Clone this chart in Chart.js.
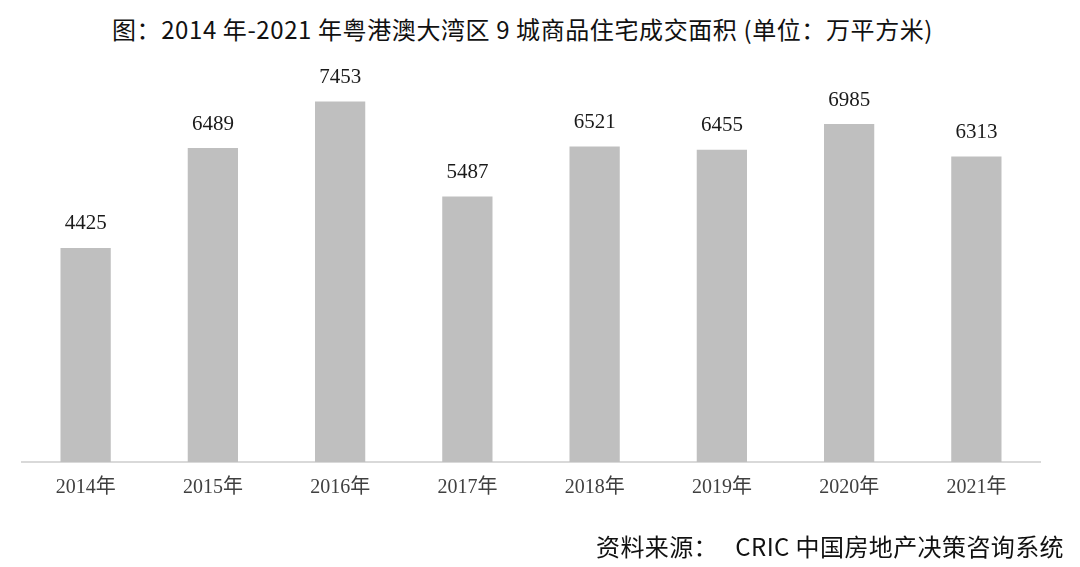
<!DOCTYPE html>
<html lang="zh">
<head>
    <meta charset="UTF-8">
    <title>粤港澳大湾区9城商品住宅成交面积</title>
    <script src="https://cdn.jsdelivr.net/npm/chart.js"></script>
    <style>
        body {
            margin: 0;
            background: #fff;
        }
        .wrap {
            position: relative;
            width: 1080px;
            height: 567px;
        }
        canvas {
            position: absolute;
            left: 0;
            top: 0;
        }
        .title {
            position: absolute;
            top: 11px;
            left: 0;
            width: 1045px;
            text-align: center;
            font-family: 'Noto Sans CJK SC', sans-serif;
            font-size: 24px;
            letter-spacing: 0.6px;
            color: #111;
            white-space: nowrap;
        }
        .source {
            position: absolute;
            right: 16px;
            top: 528px;
            font-family: 'Noto Sans CJK SC', sans-serif;
            font-size: 24px;
            letter-spacing: 0.4px;
            color: #111;
            white-space: pre;
        }
    </style>
</head>
<body>
    <div class="wrap">
        <div class="title">图：2014 年-2021 年粤港澳大湾区 9 城商品住宅成交面积 (单位：万平方米)</div>
        <canvas id="areaChart" width="1080" height="567"></canvas>
        <div class="source">资料来源：   CRIC 中国房地产决策咨询系统</div>
    </div>

    <script>
        const years = ['2014年', '2015年', '2016年', '2017年', '2018年', '2019年', '2020年', '2021年'];
        const areas = [4425, 6489, 7453, 5487, 6521, 6455, 6985, 6313];

        // value labels above each bar
        const barLabels = {
            id: 'barLabels',
            afterDatasetsDraw(chart) {
                const ctx = chart.ctx;
                const meta = chart.getDatasetMeta(0);
                ctx.save();
                ctx.font = "21px 'Liberation Serif', serif";
                ctx.fillStyle = '#1a1a1a';
                ctx.textAlign = 'center';
                ctx.textBaseline = 'middle';
                meta.data.forEach((bar, i) => {
                    ctx.fillText(areas[i], bar.x, bar.y - 24);
                });
                ctx.restore();
            }
        };

        const ctx = document.getElementById('areaChart').getContext('2d');
        new Chart(ctx, {
            type: 'bar',
            data: {
                labels: years,
                datasets: [{
                    data: areas,
                    backgroundColor: '#bfbfbf',
                    categoryPercentage: 1,
                    barPercentage: 0.395
                }]
            },
            options: {
                responsive: false,
                animation: false,
                layout: {
                    padding: { left: 22, right: 40, top: 75, bottom: 53 }
                },
                scales: {
                    x: {
                        grid: { display: false, drawTicks: false },
                        border: { color: '#d9d9d9', width: 2 },
                        ticks: {
                            padding: 14,
                            color: '#404040',
                            font: { family: "'Liberation Serif', 'Noto Sans CJK SC', serif", size: 20 }
                        }
                    },
                    y: {
                        display: false,
                        min: 0,
                        max: 8000
                    }
                },
                plugins: {
                    legend: { display: false },
                    tooltip: { enabled: false }
                }
            },
            plugins: [barLabels]
        });
    </script>
</body>
</html>
